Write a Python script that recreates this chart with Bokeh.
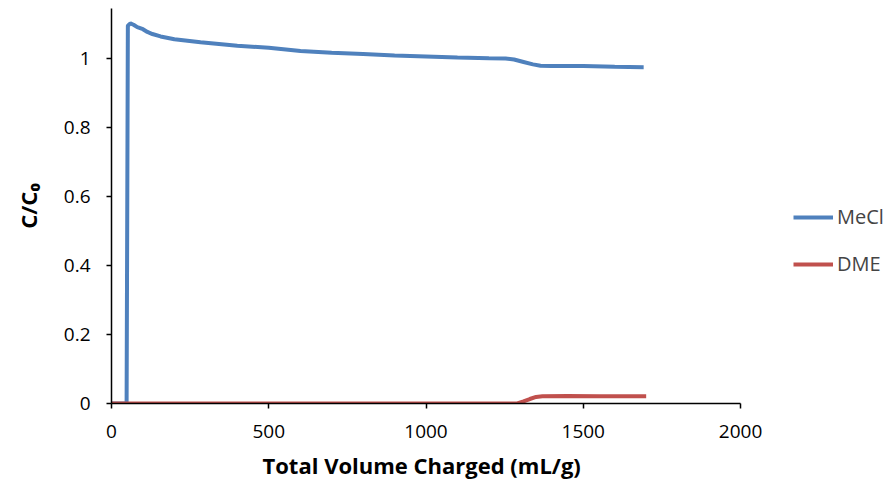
from bokeh.plotting import figure
from bokeh.models import Range1d, FixedTicker, Legend, LegendItem, Title
from bokeh.embed import file_html
from bokeh.resources import INLINE

# Data
mecl_x = [0, 48, 52, 60, 70, 82, 100, 114, 130, 156, 200, 283, 400, 500, 601, 700, 800,
          900, 1000, 1100, 1200, 1253, 1280, 1310, 1340, 1364, 1400, 1500, 1600, 1692]
mecl_y = [0, 0, 1.095, 1.102, 1.098, 1.091, 1.085, 1.077, 1.071, 1.064, 1.056, 1.047, 1.037,
          1.031, 1.022, 1.017, 1.013, 1.009, 1.006, 1.003, 1.001, 1.0, 0.997, 0.99, 0.983,
          0.979, 0.978, 0.978, 0.976, 0.975]
dme_x = [0, 1290, 1310, 1330, 1350, 1370, 1450, 1550, 1650, 1700]
dme_y = [0, 0, 0.006, 0.013, 0.019, 0.021, 0.022, 0.021, 0.021, 0.021]

x_ticks = [0, 500, 1000, 1500, 2000]
x_axis_bounds = (0, 2000)
y_ticks = [0, 0.2, 0.4, 0.6, 0.8, 1.0]
y_tick_labels = ["0", "0.2", "0.4", "0.6", "0.8", "1"]
x_title = "Total Volume Charged (mL/g)"
y_title = "C/C\u2080"

FONT = "Open Sans"

# frame extends to the right edge so the legend (inside the frame) is not clipped;
# the x axis line itself is bounded to 0..2000
p = figure(width=891, height=492, output_backend="svg", toolbar_location=None,
           x_range=Range1d(0, 2480), y_range=Range1d(0, 1.145),
           min_border_left=111, min_border_right=0, min_border_top=8,
           min_border_bottom=89)
p.outline_line_color = None
p.xgrid.visible = False
p.ygrid.visible = False

r1 = p.line(mecl_x, mecl_y, line_color="#4F81BD", line_width=4)
r2 = p.line(dme_x, dme_y, line_color="#C0504D", line_width=4)

for ax in (p.xaxis[0], p.yaxis[0]):
    ax.axis_line_color = "black"
    ax.axis_line_width = 1.5
    ax.major_tick_line_color = "black"
    ax.major_tick_line_width = 1.5
    ax.major_tick_out = 5
    ax.major_tick_in = 0
    ax.minor_tick_line_color = None
    ax.major_label_text_font = FONT
    ax.major_label_text_font_size = "19px"
    ax.major_label_text_color = "black"
    ax.axis_label_text_font = FONT
    ax.axis_label_text_font_style = "bold"
    ax.axis_label_text_font_size = "22px"
    ax.axis_label_text_color = "black"

p.xaxis.bounds = x_axis_bounds
p.xaxis.ticker = FixedTicker(ticks=x_ticks)
p.yaxis.ticker = FixedTicker(ticks=y_ticks)
p.yaxis.major_label_overrides = {t: l for t, l in zip(y_ticks, y_tick_labels)}
p.yaxis.axis_label = y_title
p.xaxis.major_label_standoff = 16
p.yaxis.major_label_standoff = 16
p.yaxis.axis_label_standoff = 18

# x-axis title centred under the 0..2000 axis (not the whole frame)
xt = Title(text=x_title, align="left", offset=151, standoff=14,
           text_font=FONT, text_font_style="bold", text_font_size="22px",
           text_color="black")
p.add_layout(xt, "below")

legend = Legend(items=[LegendItem(label="MeCl", renderers=[r1]),
                       LegendItem(label="DME", renderers=[r2])],
                location=(682, 126), orientation="vertical",
                glyph_width=40, glyph_height=20, label_height=20,
                spacing=20, padding=0, margin=0, label_standoff=4,
                label_text_font=FONT, label_text_font_size="20px",
                border_line_color=None, background_fill_alpha=0)
p.add_layout(legend)

open("out.html", "w").write(file_html(p, INLINE))
